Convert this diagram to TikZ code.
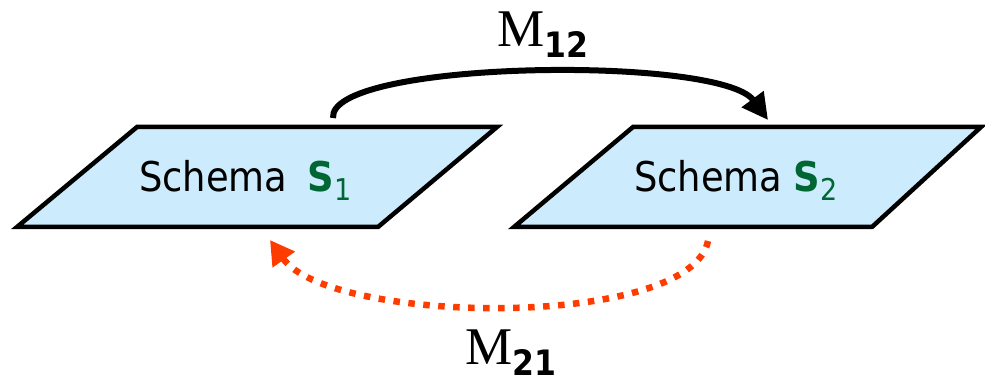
\documentclass[tikz,border=0pt]{standalone}
\usepackage{fontspec}
\usetikzlibrary{arrows.meta}
\newfontfamily\cond{DejaVu Sans Condensed}
\newfontfamily\condb{DejaVu Sans Condensed Bold}
\newfontfamily\serifm{Liberation Serif}
\definecolor{schemafill}{HTML}{CCEBFC}
\definecolor{sgreen}{HTML}{006633}
\definecolor{mred}{HTML}{FF3C00}
\tikzset{
  schema/.style={draw=black, line width=4.5pt, fill=schemafill, line join=miter},
  lbl/.style={inner sep=0pt, anchor=base west},
  maparrow/.style={line width=6pt, -{Triangle[length=26pt,width=26pt]}},
  backarrow/.style={draw=mred, line width=6.5pt, dash pattern=on 6.5pt off 8.5pt, -{Triangle[length=24pt,width=26pt,fill=mred]}}
}
\newcommand{\schemalabel}[2]{{\fontsize{41}{41}\selectfont\cond Schema#1{\color{sgreen}\condb S}\raisebox{-9pt}{\fontsize{30}{30}\selectfont\color{sgreen}\cond #2}}}
\newcommand{\mlabel}[1]{{\fontsize{53}{53}\selectfont\serifm M}\raisebox{-11pt}{\fontsize{35}{35}\selectfont\condb #1}}
\begin{document}
\begin{tikzpicture}[x=1pt,y=-1pt]
\useasboundingbox (0,0) rectangle (985,382);
% schema S1
\draw[schema] (137,127) -- (497,127) -- (378,227) -- (17,227) -- cycle;
% schema S2
\draw[schema] (633,127) -- (981,127) -- (872,227) -- (514,227) -- cycle;
\node[lbl] (t1) at (139,192) {\schemalabel{\hspace{20pt}}{1}};
\node[lbl] (t2) at (634,192) {\schemalabel{\hspace{11pt}}{2}};
\coordinate (s1top) at (333,118);
\coordinate (s2top) at (768,120);
\coordinate (s2bot) at (708,241);
\coordinate (s1bot) at (270,240);
\draw[maparrow] (s1top) .. controls (328,60) and (720,55) .. (s2top);
\draw[backarrow] (s2bot) .. controls (690,330) and (330,325) .. (s1bot);
\node[lbl] (m12) at (497,47) {\mlabel{12}};
\node[lbl] (m21) at (465,364) {\mlabel{21}};
\end{tikzpicture}
\end{document}
